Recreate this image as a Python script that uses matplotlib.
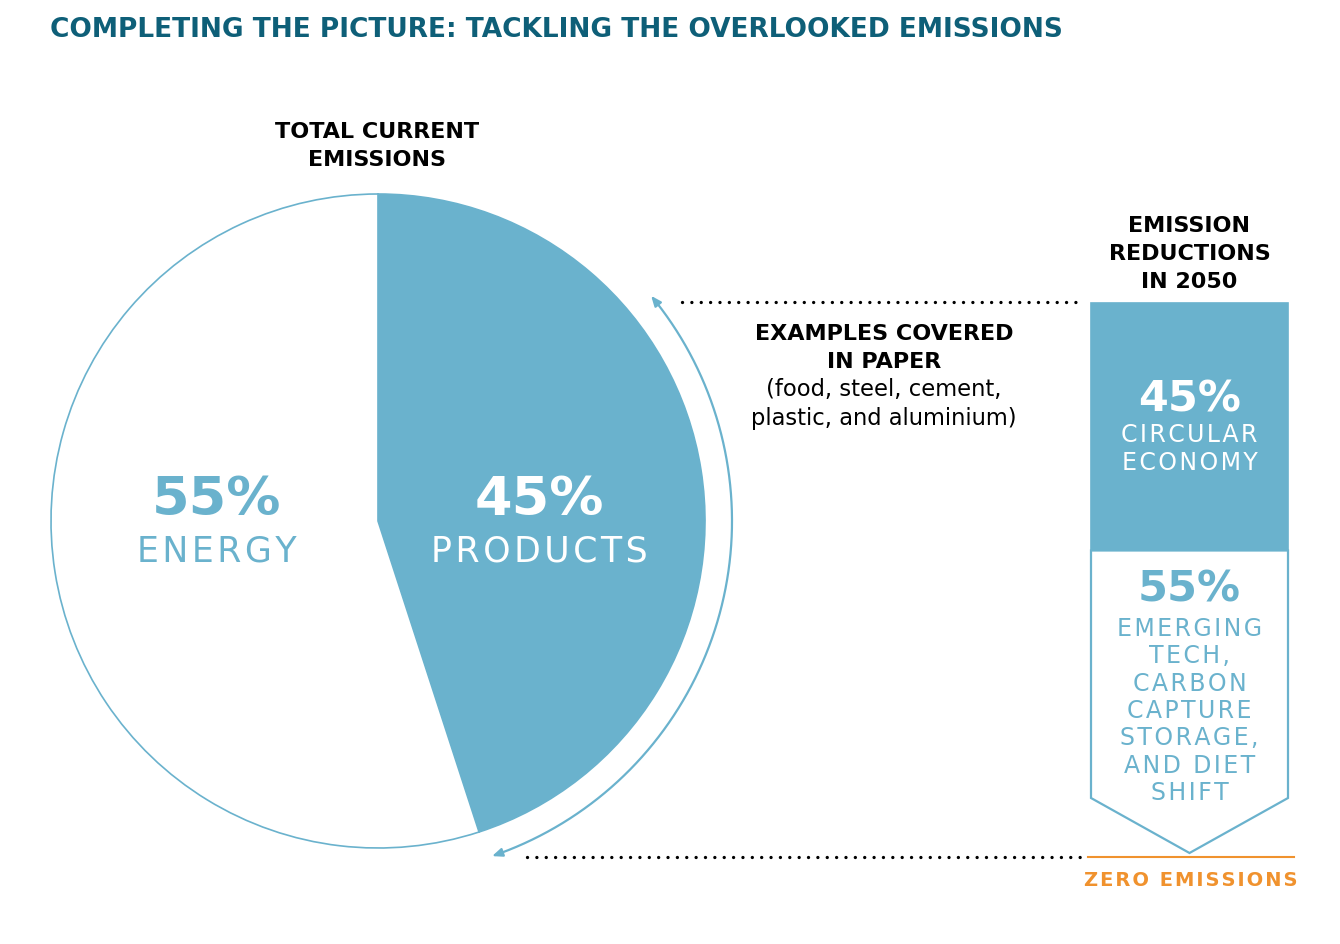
import numpy as np
import matplotlib
matplotlib.use("Agg")
import matplotlib.pyplot as plt
from matplotlib.patches import Polygon, Rectangle, FancyArrowPatch
from matplotlib.path import Path

W, H = 1340, 944
BLUE = "#6ab2cd"; TEAL = "#0e5f78"; ORANGE = "#f0922e"

# data
pie_labels = ["PRODUCTS", "ENERGY"]
pie_shares = [45, 55]
red_labels = ["CIRCULAR\nECONOMY", "EMERGING\nTECH,\nCARBON\nCAPTURE\nSTORAGE,\nAND DIET\nSHIFT"]
red_shares = [45, 55]

HAIR = "\u200a"
def track(s, sp=HAIR):
    # poor man's letter spacing
    return "\n".join(sp.join(line) for line in s.split("\n"))

plt.rcParams["font.family"] = ["DejaVu Sans"]
fig = plt.figure(figsize=(W / 100, H / 100), dpi=100)
ax = fig.add_axes([0, 0, 1, 1])
ax.set_xlim(0, W); ax.set_ylim(0, H); ax.set_aspect("equal"); ax.axis("off")
Y = lambda y: H - y

# ---- pie ----
cx, cy, r = 378, Y(521), 327
ax.pie(pie_shares, center=(cx, cy), radius=r, startangle=90, counterclock=False,
       colors=[BLUE, "white"], wedgeprops=dict(edgecolor=BLUE, linewidth=1.2))
ax.set_xlim(0, W); ax.set_ylim(0, H)
ax.text(539, Y(500), f"{pie_shares[0]}%", ha="center", va="center", color="white", fontsize=39, fontweight="bold")
ax.text(539, Y(551), track(pie_labels[0]), ha="center", va="center", color="white", fontsize=25)
ax.text(217, Y(500), f"{pie_shares[1]}%", ha="center", va="center", color=BLUE, fontsize=39, fontweight="bold")
ax.text(217, Y(551), track(pie_labels[1]), ha="center", va="center", color=BLUE, fontsize=25)
ax.text(377, Y(146), "TOTAL CURRENT\nEMISSIONS", ha="center", va="center", color="black",
        fontsize=16, fontweight="bold", linespacing=1.47)

# ---- curved double arrow ----
ra = 354
t = np.radians(np.linspace(39.5, -71.2, 80))
arc = Path(np.column_stack([cx + ra * np.cos(t), cy + ra * np.sin(t)]))
ax.add_patch(FancyArrowPatch(path=arc, arrowstyle="<|-|>,head_length=6,head_width=2.5",
                             color=BLUE, lw=1.6, mutation_scale=1))

# ---- dotted guides ----
dot = dict(color="black", lw=2.4, linestyle=(0, (0.01, 2.8)), dash_capstyle="round")
ax.plot([682, 1083], [Y(302), Y(302)], **dot)
ax.plot([527, 1080], [Y(857), Y(857)], **dot)

ax.text(884, Y(348), "EXAMPLES COVERED\nIN PAPER", ha="center", va="center", color="black",
        fontsize=16, fontweight="bold", linespacing=1.47)
ax.text(884, Y(404), "(food, steel, cement,\nplastic, and aluminium)", ha="center", va="center",
        color="black", fontsize=16.3, linespacing=1.35)

# ---- reduction box ----
bx0, bx1, top, tip = 1091, 1288, Y(303), Y(853)
total = top - tip
split = top - total * red_shares[0] / sum(red_shares)
ax.add_patch(Rectangle((bx0, split), bx1 - bx0, top - split, facecolor=BLUE, edgecolor=BLUE, lw=1.2))
shoulder = Y(798)
ax.add_patch(Polygon([(bx0, split), (bx1, split), (bx1, shoulder), ((bx0 + bx1) / 2, tip), (bx0, shoulder)],
                     closed=True, facecolor="white", edgecolor=BLUE, lw=1.6))
ax.add_patch(Rectangle((bx0, split), bx1 - bx0, 2, facecolor=BLUE, edgecolor="none"))
bxc = (bx0 + bx1) / 2
ax.text(bxc, Y(254), "EMISSION\nREDUCTIONS\nIN 2050", ha="center", va="center", color="black",
        fontsize=16, fontweight="bold", linespacing=1.47)
ax.text(bxc, Y(399), f"{red_shares[0]}%", ha="center", va="center", color="white", fontsize=31, fontweight="bold")
ax.text(bxc, Y(449), track(red_labels[0]), ha="center", va="center", color="white", fontsize=17,
        linespacing=1.18)
ax.text(bxc, Y(590), f"{red_shares[1]}%", ha="center", va="center", color=BLUE, fontsize=31, fontweight="bold")
ax.text(bxc, Y(711), track(red_labels[1]), ha="center", va="center", color=BLUE, fontsize=17,
        linespacing=1.18)

ax.plot([1088, 1294], [Y(857), Y(857)], color=ORANGE, lw=1.5)
ax.text(bxc + 1, Y(880), track("ZERO EMISSIONS"), ha="center", va="center", color=ORANGE,
        fontsize=14, fontweight="bold")

ax.text(50, Y(30), "COMPLETING THE PICTURE: TACKLING THE OVERLOOKED EMISSIONS", ha="left", va="center",
        color=TEAL, fontsize=19, fontweight="bold")

fig.savefig("out.png", dpi=100)
